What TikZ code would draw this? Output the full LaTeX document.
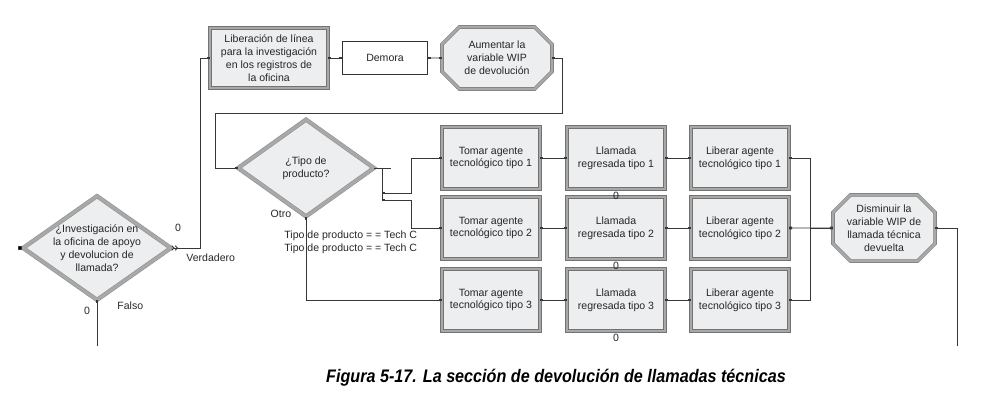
\documentclass[tikz,border=0pt]{standalone}
\usepackage{fontspec}
\usepackage{graphicx}
\setmainfont{Liberation Sans}
\usetikzlibrary{shapes.geometric,shapes.misc,arrows.meta}

\definecolor{boxfill}{RGB}{236,238,240}
\definecolor{bevel}{RGB}{168,168,168}
\definecolor{wire}{RGB}{55,55,55}

\tikzset{
    blk/.style={
        draw=black!55,
        double=bevel,
        double distance=2.2pt,
        line width=.4pt,
        fill=boxfill,
        rectangle,
        inner sep=1pt,
        align=center,
        text=black!85,
        minimum width=2.94cm,
        minimum height=1.86cm
    },
    oct/.style={
        blk,
        chamfered rectangle,
        chamfered rectangle xsep=.26cm,
        chamfered rectangle ysep=.26cm
    },
    dec/.style={
        draw=black!45,
        double=bevel,
        double distance=2.8pt,
        line width=.4pt,
        fill=boxfill,
        diamond,
        inner sep=0pt
    },
    plain/.style={
        draw=black!80,
        line width=.6pt,
        fill=white,
        rectangle,
        text=black!85,
        minimum width=2.55cm,
        minimum height=1cm
    },
    wire/.style={
        draw=wire,
        line width=.8pt
    },
    lbl/.style={
        text=black!85,
        inner sep=1pt
    }
}

\begin{document}
\begin{tikzpicture}[x=0.03cm, y=-0.03cm, >={Square[length=2.4pt,width=2.4pt]}]
\useasboundingbox (0,0) rectangle (997,402);
\fontsize{9}{11}\selectfont
		\path
			node[dec, minimum width=4.44cm, minimum height=3.12cm,
				label={[align=center,text=black!85]center:{¿Investigación en\\la oficina de apoyo\\y devolucion de\\llamada?}}]
				at (97,248) (inv) {}
			node[blk, minimum width=3.54cm, minimum height=1.8cm] at (269,58) (lib)
				{Liberación de línea\\para la investigación\\en los registros de\\la oficina}
			node[plain] at (385,58) (dem) {Demora}
			node[oct, minimum width=3.3cm, minimum height=1.86cm] at (497,58) (aum)
				{Aumentar la\\variable WIP\\de devolución}
			;
		\path
			node[dec, minimum width=4.08cm, minimum height=2.91cm,
				label={[align=center,text=black!85]center:{¿Tipo de\\producto?}}]
				at (306,168) (tipo) {}
			;
		\path 	(491,158)
					node[blk](t1){Tomar agente\\tecnológico tipo 1}
			++(125,0) node[blk](l1){Llamada\\regresada tipo 1}
			++(124,0) node[blk](r1){Liberar agente\\tecnológico tipo 1};
		\path 	(491,228)
					node[blk](t2){Tomar agente\\tecnológico tipo 2}
			++(125,0) node[blk](l2){Llamada\\regresada tipo 2}
			++(124,0) node[blk](r2){Liberar agente\\tecnológico tipo 2};
		\path 	(491,300)
					node[blk](t3){Tomar agente\\tecnológico tipo 3}
			++(125,0) node[blk](l3){Llamada\\regresada tipo 3}
			++(124,0) node[blk](r3){Liberar agente\\tecnológico tipo 3};
		\path
			node[oct, minimum width=3.06cm, minimum height=1.98cm] at (884,228) (dis)
				{Disminuir la\\variable WIP de\\llamada técnica\\devuelta}
			;

		\coordinate (ret) at (215,113);
		\coordinate (sp) at (382,168);
		\coordinate (b1) at (382,193);
		\coordinate (b2) at (382,200);
		\coordinate (outF) at (97,346);
		\coordinate (outD) at (957,346);

		\path [<->, wire]
			(lib) edge (dem)
			(dem) edge (aum)
			(t1) edge (l1)
			(l1) edge (r1)
			(t2) edge (l2)
			(l2) edge (r2)
			(t3) edge (l3)
			(l3) edge (r3)
			(r2) edge (dis)
			;

		% entradas y salidas de las decisiones
		\fill [wire] (inv.west) ++(-4,-1.6) rectangle ++(3.2,3.2);
		\draw [wire, {Straight Barb[reversed,length=2pt]Straight Barb[reversed,length=2pt]}-{Square[length=2.4pt,width=2.4pt]}]
			(inv.east) -- ++(29,0) |- (lib.west);
		\draw [wire, {Square[length=2.4pt,width=2.4pt]}-] (inv.south) -- (outF);
		\draw [<->, wire] (aum.east) -- ++(10,0) |- (ret) |- (tipo.west);

		\draw [wire] (tipo.east) -- ++(17,0);
		\draw [wire] (sp) -- (b2);
		\draw [<->, wire] (b1) -- ++(29,0) |- (t1.west);
		\draw [<->, wire] (b2) -- ++(29,0) |- (t2.west);
		\draw [<->, wire] (tipo.south) |- (t3.west);

		\draw [<->, wire] (r1.east) -- ++(21,0) |- (dis.west);
		\draw [<->, wire] (r3.east) -- ++(21,0) |- (dis.west);
		\draw [wire, {Square[length=2.4pt,width=2.4pt]}-] (dis.east) -| (outD);

		\path
			node[lbl] at (178,228) (n0a) {0}
			node[lbl, right] at (185,258) (ver) {Verdadero}
			node[lbl, right] at (116,306) (fal) {Falso}
			node[lbl] at (87,311) (n0b) {0}
			node[lbl] at (281,214) (otro) {Otro}
			node[lbl, right, align=left] at (283,242) (cond)
				{Tipo de producto = = Tech C\\Tipo de producto = = Tech C}
			node[lbl, below=1pt] at (l1.south) (q1) {0}
			node[lbl, below=1pt] at (l2.south) (q2) {0}
			node[lbl, below=1pt] at (l3.south) (q3) {0}
			;
		\node at (556,378) (cap)
			{\fontsize{15.5}{17}\selectfont\bfseries\itshape\scalebox{0.89}[1]{Figura 5-17. La sección de devolución de llamadas técnicas}};
\end{tikzpicture}
\end{document}
